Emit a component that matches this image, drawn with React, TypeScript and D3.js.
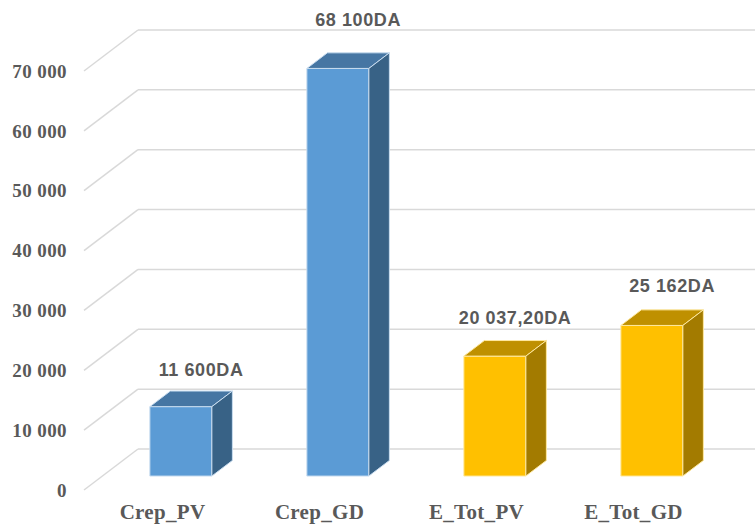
import React from "react";
import * as d3 from "d3";

const categories = ["Crep_PV", "Crep_GD", "E_Tot_PV", "E_Tot_GD"];
const values = [11600, 68100, 20037.2, 25162];
const valueLabels = ["11 600DA", "68 100DA", "20 037,20DA", "25 162DA"];
const seriesGroup = ["blue", "blue", "gold", "gold"];
const yTicks = [0, 10000, 20000, 30000, 40000, 50000, 60000, 70000];

const W = 755;
const H = 526;
const DX = 54; // depth offset x
const DY = 41; // depth offset y
const F1 = 0.34; // bar front depth fraction
const F2 = 0.72; // bar back depth fraction
const BAR_W = 62;

const SERIF = "Liberation Serif, Times New Roman, serif";
const SANS = "Liberation Sans, Arial, sans-serif";

const palettes: Record<string, { front: string; top: string; side: string; edge: string }> = {
  blue: { front: "#5B9BD5", top: "#4676A3", side: "#386286", edge: "#C9DDF0" },
  gold: { front: "#FFC000", top: "#BF9000", side: "#A37B00", edge: "#FFE9A0" },
};

const fmt = (v: number) => d3.format(",")(v).replace(/,/g, " ");

export default function App() {
  const y = d3.scaleLinear().domain([0, 70000]).range([490, 71]);
  const x = d3.scaleBand<string>().domain(categories).range([84, 712]).padding(0);
  const labelY = d3.scaleLinear().domain([0, 70000]).range([448, 14]);

  const proj = (px: number, v: number, f: number): [number, number] => [px + f * DX, y(v) - f * DY];
  const poly = (pts: [number, number][]) => pts.map((p) => p.join(",")).join(" ");

  const gridColor = "#D9D9D9";

  return (
    <svg
      width={W}
      height={H}
      style={{ position: "fixed", left: 0, top: 0, background: "#fff" }}
      xmlns="http://www.w3.org/2000/svg"
    >
      <rect x={0} y={0} width={W} height={H} fill="#fff" />
      {/* gridlines: side wall diagonal + back wall horizontal */}
      {yTicks.map((t) => {
        const [fx, fy] = proj(84, t, 0);
        const [bx, by] = proj(84, t, 1);
        return (
          <g key={t}>
            <line x1={fx} y1={fy} x2={bx} y2={by} stroke={gridColor} strokeWidth={1.5} />
            <line x1={bx} y1={by} x2={W} y2={by} stroke={gridColor} strokeWidth={1.5} />
          </g>
        );
      })}
      {/* y tick labels */}
      {yTicks.map((t) => (
        <text
          key={"l" + t}
          x={67}
          y={y(t)}
          dy="0.35em"
          textAnchor="end"
          style={{ fontFamily: SERIF, fontWeight: 700, fontSize: 19, letterSpacing: 0.4 }}
          fill="#595959"
        >
          {fmt(t)}
        </text>
      ))}
      {/* bars */}
      {categories.map((c, i) => {
        const v = values[i];
        const p = palettes[seriesGroup[i]];
        const cx = (x(c) as number) + x.bandwidth() / 2;
        const x0 = cx - BAR_W / 2;
        const x1 = cx + BAR_W / 2;
        const fbl = proj(x0, 0, F1);
        const fbr = proj(x1, 0, F1);
        const ftl = proj(x0, v, F1);
        const ftr = proj(x1, v, F1);
        const btl = proj(x0, v, F2);
        const btr = proj(x1, v, F2);
        const bbr = proj(x1, 0, F2);
        return (
          <g key={c} strokeWidth={1} stroke={p.edge} strokeLinejoin="round">
            <polygon points={poly([fbl, fbr, ftr, ftl])} fill={p.front} />
            <polygon points={poly([ftl, ftr, btr, btl])} fill={p.top} />
            <polygon points={poly([fbr, bbr, btr, ftr])} fill={p.side} />
          </g>
        );
      })}
      {/* value labels */}
      {categories.map((c, i) => {
        const cx = (x(c) as number) + x.bandwidth() / 2;
        const lx = cx + ((F1 + F2) / 2) * DX + 10;
        return (
          <text
            key={"v" + c}
            x={lx}
            y={labelY(values[i])}
            textAnchor="middle"
            style={{ fontFamily: SANS, fontWeight: 700, fontSize: 18, letterSpacing: 0.6 }}
            fill="#595959"
          >
            {valueLabels[i]}
          </text>
        );
      })}
      {/* category labels */}
      {categories.map((c) => (
        <text
          key={"c" + c}
          x={(x(c) as number) + x.bandwidth() / 2}
          y={519}
          textAnchor="middle"
          style={{ fontFamily: SERIF, fontWeight: 700, fontSize: 21, letterSpacing: 0.3 }}
          fill="#595959"
        >
          {c}
        </text>
      ))}
    </svg>
  );
}
